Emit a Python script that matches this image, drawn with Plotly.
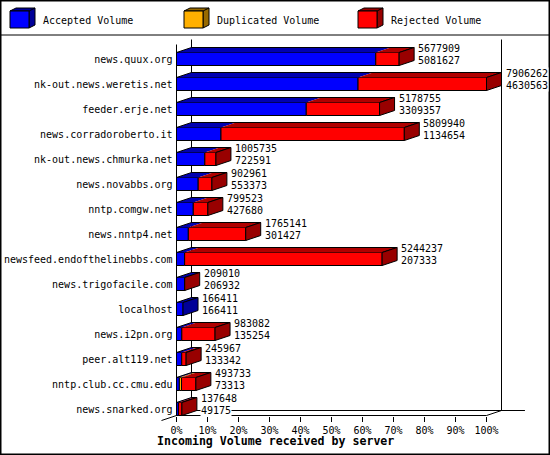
"""
Incoming volume per feeding server, GD::Graph-like 3D horizontal bars
"""
import plotly.graph_objects as go

hosts = [
    "news.quux.org", "nk-out.news.weretis.net", "feeder.erje.net",
    "news.corradoroberto.it", "nk-out.news.chmurka.net", "news.novabbs.org",
    "nntp.comgw.net", "news.nntp4.net", "newsfeed.endofthelinebbs.com",
    "news.trigofacile.com", "localhost", "news.i2pn.org", "peer.alt119.net",
    "nntp.club.cc.cmu.edu", "news.snarked.org",
]
offered = [5677909, 7906262, 5178755, 5809940, 1005735, 902961, 799523, 1765141,
           5244237, 209010, 166411, 983082, 245967, 493733, 137648]
accepted = [5081627, 4630563, 3309357, 1134654, 722591, 553373, 427680, 301427,
            207333, 206932, 166411, 135254, 133342, 73313, 49175]
duplicated = [0, 0, 0, 0, 0, 0, 0, 0, 0, 0, 0, 0, 0, 55000, 0]

pct_ticks = [0, 10, 20, 30, 40, 50, 60, 70, 80, 90, 100]
pct_labels = ["0%", "10%", "20%", "30%", "40%", "50%", "60%", "70%", "80%", "90%", "100%"]

series_names = ["Accepted Volume", "Duplicated Volume", "Rejected Volume"]
front_colors = ["#0000ff", "#ffb000", "#ff0000"]
top_colors = ["#0000b0", "#b07c00", "#b00000"]
side_colors = ["#000098", "#986a00", "#980000"]

W, H = 550, 455
PX_PCT = 3.1        # pixels per percent
X0_PX = 176.5       # pixel of 0%
ROW_PX = 25.0
ROW0_PX = 59.0      # pixel of first row centre
DX = 15 / PX_PCT    # 3d depth, in percent
DY = 5 / ROW_PX     # 3d depth, in rows
HALF = 6.5 / ROW_PX  # half bar height
FONT = "DejaVu Sans Mono"

xr = [-X0_PX / PX_PCT, (W - X0_PX) / PX_PCT]
yr = [(H - ROW0_PX) / ROW_PX, -ROW0_PX / ROW_PX]

rejected = [o - a - d for o, a, d in zip(offered, accepted, duplicated)]
segs = [accepted, duplicated, rejected]
vmax = max(offered)


def pct(v):
    return v * 100.0 / vmax


rows = list(range(len(hosts)))
y_base = rows[-1] + HALF
y_top = -0.58

fig = go.Figure()
shapes = []
annots = []


def line(x0, y0, x1, y1, layer="below"):
    return dict(type="line", xref="x", yref="y", x0=x0, y0=y0, x1=x1, y1=y1,
                line=dict(color="black", width=1), layer=layer)


# frame (floor and walls)
shapes += [
    line(0, y_top, 0, y_base),
    line(DX, y_top - DY, DX, y_base - DY),
    line(100 + DX, y_top - DY, 100 + DX, y_base - DY),
    line(0, y_base, 100, y_base),
    line(DX, y_base - DY, 112.4, y_base - DY),
    line(100, y_base, 100 + DX, y_base - DY),
    line(-DX, y_base + DY, DX, y_base - DY),
]

# front faces as real bars
for k, seg in enumerate(segs):
    starts, lens = [], []
    for i in rows:
        starts.append(pct(sum(segs[j][i] for j in range(k))))
        lens.append(pct(seg[i]) if seg[i] > 0 else None)
    fig.add_trace(go.Bar(
        orientation="h", y=rows, x=lens, base=starts, width=2 * HALF,
        marker=dict(color=front_colors[k], line=dict(color="black", width=1)),
        name=series_names[k], hoverinfo="skip", showlegend=False,
    ))

# top and side faces, value labels
for i in rows:
    y0 = i - HALF
    y1 = i + HALF
    start = 0.0
    last = None
    for k, seg in enumerate(segs):
        if seg[i] <= 0:
            continue
        a = pct(start)
        b = pct(start + seg[i])
        shapes.append(dict(
            type="path", xref="x", yref="y", layer="above",
            path=f"M {a},{y0} L {b},{y0} L {b + DX},{y0 - DY} L {a + DX},{y0 - DY} Z",
            fillcolor=top_colors[k], line=dict(width=0),
        ))
        start += seg[i]
        last = k
    e = pct(start)
    shapes.append(dict(
        type="path", xref="x", yref="y", layer="above",
        path=f"M 0,{y0} L {DX},{y0 - DY} L {e + DX},{y0 - DY} L {e},{y0}",
        line=dict(color="black", width=1),
    ))
    shapes.append(dict(
        type="path", xref="x", yref="y", layer="above",
        path=f"M {e},{y0} L {e + DX},{y0 - DY} L {e + DX},{y1 - DY} L {e},{y1} Z",
        fillcolor=side_colors[last], line=dict(color="black", width=1),
    ))
    for txt, dy in ((offered[i], -0.42), (accepted[i], 0.06)):
        annots.append(dict(
            x=e + DX, y=i + dy, xref="x", yref="y", text=str(txt), showarrow=False,
            xanchor="left", yanchor="middle", xshift=3, bgcolor="white", borderpad=0,
            font=dict(family=FONT, size=10, color="black"),
        ))

# axis title
annots.append(dict(
    x=0.5, y=1 - 441 / H, xref="paper", yref="paper", showarrow=False,
    text="<b>Incoming Volume received by server</b>", xanchor="center", yanchor="middle",
    font=dict(family=FONT, size=11.6, color="black"),
))


def P(x, y):
    return f"{x / W},{1 - y / H}"


# legend with 3d cubes
for k, name in enumerate(series_names):
    lx = 10 + 174 * k
    fx0, fx1, fy0, fy1, d, dd = lx, lx + 19, 11, 28, 6, 3
    shapes.append(dict(
        type="path", xref="paper", yref="paper", layer="above",
        path=f"M {P(fx0, fy0)} L {P(fx0 + d, fy0 - dd)} L {P(fx1 + d, fy0 - dd)} "
             f"L {P(fx1 + d, fy1 - dd)} L {P(fx1, fy1)} L {P(fx1, fy0)} Z",
        fillcolor=side_colors[k], line=dict(color="black", width=1),
    ))
    shapes.append(dict(
        type="path", xref="paper", yref="paper", layer="above",
        path=f"M {P(fx1, fy0)} L {P(fx1 + d, fy0 - dd)}",
        line=dict(color="black", width=1),
    ))
    shapes.append(dict(
        type="rect", xref="paper", yref="paper", layer="above",
        x0=fx0 / W, x1=fx1 / W, y0=1 - fy1 / H, y1=1 - fy0 / H,
        fillcolor=front_colors[k], line=dict(color="black", width=1),
    ))
    annots.append(dict(
        x=(lx + 31) / W, y=1 - 20.5 / H, xref="paper", yref="paper", text=name,
        showarrow=False, xanchor="left", yanchor="middle",
        font=dict(family=FONT, size=10, color="black"),
    ))

# legend divider and outer border
shapes.append(dict(type="line", xref="paper", yref="paper", x0=0, x1=1,
                   y0=1 - 35 / H, y1=1 - 35 / H, line=dict(color="black", width=1)))
shapes.append(dict(type="rect", xref="paper", yref="paper", x0=0, x1=1, y0=0, y1=1,
                   line=dict(color="black", width=3)))

fig.update_layout(
    width=W, height=H,
    margin=dict(l=0, r=0, t=0, b=0),
    paper_bgcolor="white", plot_bgcolor="white",
    barmode="overlay", showlegend=False,
    font=dict(family=FONT, size=10, color="black"),
    xaxis=dict(
        range=xr, anchor="free", position=(yr[0] - y_base) / (yr[0] - yr[1]),
        tickvals=pct_ticks, ticktext=pct_labels, ticks="outside", ticklen=5,
        tickcolor="black", showgrid=False, zeroline=False, showline=False,
        tickfont=dict(family=FONT, size=10, color="black"), fixedrange=True,
    ),
    yaxis=dict(
        range=yr, anchor="free", position=(0 - xr[0]) / (xr[1] - xr[0]),
        tickvals=rows, ticktext=hosts, ticks="", showgrid=False, zeroline=False,
        showline=False, ticklabelstandoff=4, fixedrange=True,
        tickfont=dict(family=FONT, size=10, color="black"),
    ),
    shapes=shapes,
    annotations=annots,
)

fig.write_html("out.html", config={"displayModeBar": False},
               post_script="document.body.style.margin='0';")
